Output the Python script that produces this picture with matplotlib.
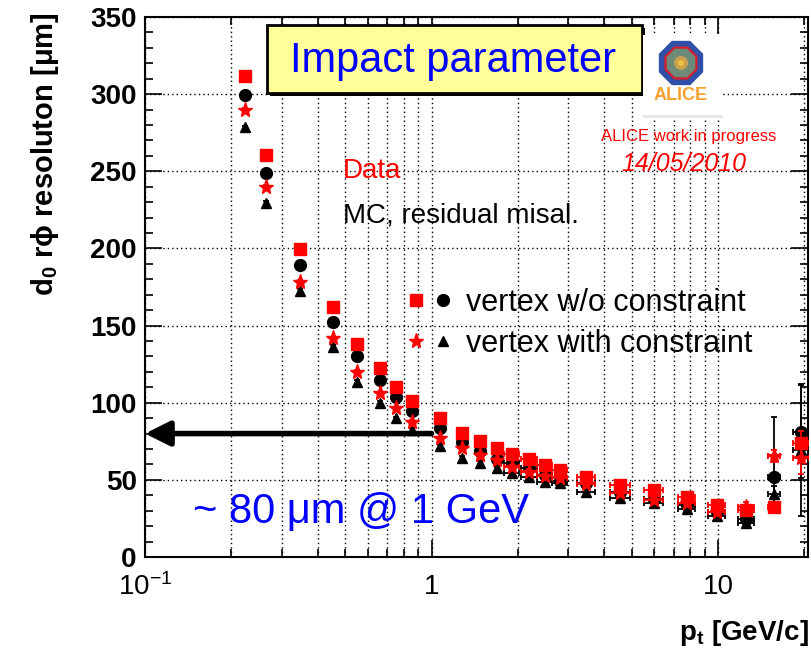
import numpy as np
import matplotlib
matplotlib.use('Agg')
import matplotlib.pyplot as plt
from matplotlib.patches import Rectangle, RegularPolygon, Circle
from matplotlib.legend_handler import HandlerTuple
from matplotlib.ticker import MultipleLocator, LogLocator, NullFormatter, FixedLocator

plt.rcParams['font.family'] = ['Liberation Sans', 'DejaVu Sans']
plt.rcParams['mathtext.fontset'] = 'custom'
plt.rcParams['mathtext.rm'] = 'Liberation Sans'
plt.rcParams['mathtext.it'] = 'Liberation Sans:italic'
plt.rcParams['mathtext.bf'] = 'Liberation Sans:bold'
plt.rcParams['mathtext.default'] = 'regular'

# ---------------- data ----------------
pt = [0.223, 0.264, 0.347, 0.452, 0.548, 0.659, 0.754, 0.857, 1.07, 1.28, 1.48, 1.69,
      1.905, 2.19, 2.49, 2.81, 3.46, 4.56, 5.98, 7.78, 9.89, 12.5, 15.7, 19.5]
pt_err = [0, 0, 0, 0, 0, 0, 0, 0, 0, 0, 0, 0,
          0.12, 0.14, 0.15, 0.17, 0.25, 0.35, 0.45, 0.55, 0.7, 0.8, 0.8, 1.2]

# Data, vertex w/o constraint (red squares)
data_noc = [311.7, 260.5, 199.6, 161.8, 138.0, 122.3, 110.4, 101.3, 89.9, 80.6, 75.2, 70.4,
            66.8, 63.3, 59.6, 56.4, 51.7, 46.7, 43.4, 39.1, 33.7, 30.5, 32.6, 73.7]
data_noc_err = [1, 1, 1, 1, 1, 1, 1, 1, 1, 1, 1, 1, 1.5, 1.5, 1.5, 1.5, 2, 2, 2, 2, 2, 3, 3, 8]
# MC, vertex w/o constraint (black circles) - asymmetric errors (low, high)
mc_noc = [299.4, 249.0, 189.2, 152.5, 130.5, 114.7, 103.9, 94.8, 83.4, 74.7, 68.9, 63.3,
          60.7, 57.5, 53.1, 49.4, 47.8, 42.3, 37.4, 33.7, 29.4, 24.4, 52.0, 81.2]
mc_noc_err_lo = [1, 1, 1, 1, 1, 1, 1, 1, 1, 1, 1, 1, 1.5, 1.5, 1.5, 1.5, 2, 2, 2, 2, 2, 3, 19, 30]
mc_noc_err_hi = [1, 1, 1, 1, 1, 1, 1, 1, 1, 1, 1, 1, 1.5, 1.5, 1.5, 1.5, 2, 2, 2, 2, 2, 3, 39, 30]
# Data, vertex with constraint (red stars)
data_c = [289.7, 240.0, 178.4, 141.7, 120.1, 106.1, 96.4, 87.5, 76.9, 70.4, 66.1, 62.9,
          58.1, 55.3, 52.5, 51.0, 47.3, 41.3, 36.9, 34.8, 29.4, 32.6, 65.5, 64.0]
data_c_err = [1, 1, 1, 1, 1, 1, 1, 1, 1, 1, 1, 1, 1.5, 1.5, 1.5, 1.5, 2, 2, 2, 2, 2, 3, 4, 10]
# MC, vertex with constraint (black triangles)
mc_c = [278.5, 229.6, 172.6, 136.3, 113.6, 100.0, 90.0, 82.3, 71.9, 64.4, 61.1, 57.5,
        54.2, 51.7, 48.8, 47.8, 42.3, 38.4, 34.8, 30.9, 26.6, 21.8, 40.8, 69.3]
mc_c_err = [1, 1, 1, 1, 1, 1, 1, 1, 1, 1, 1, 1, 1.5, 1.5, 1.5, 1.5, 2, 2, 2, 2, 2, 3, 5, 43]

yticks = [0, 50, 100, 150, 200, 250, 300, 350]
xticks = [0.1, 1, 10]
xticklabels = ['10$^{-1}$', '1', '10']
arrow_pt = 1.0
arrow_val = 80

RED = '#FF0000'
BLUE = '#0000FF'

fig = plt.figure(figsize=(8.12, 6.56), dpi=100)
ax = fig.add_axes([145 / 812, 1 - 557 / 656, 663 / 812, 540 / 656])
ax.set_xscale('log')
ax.set_xlim(0.1, 20.6)
ax.set_ylim(0, 350)

# grid
dots = (0, (1, 2.2))
ax.grid(True, which='both', axis='x', color='black', ls=dots, lw=1.0)
ax.grid(True, which='major', axis='y', color='black', ls=dots, lw=1.0)
ax.set_axisbelow(True)

ekw = dict(capsize=2.5, elinewidth=1.3, capthick=1.3, ls='none')
h_ci = ax.errorbar(pt, mc_noc, yerr=[mc_noc_err_lo, mc_noc_err_hi], xerr=pt_err, fmt='o',
                   color='black', ms=8.5, zorder=3, **ekw)
h_tr = ax.errorbar(pt, mc_c, yerr=mc_c_err, xerr=pt_err, fmt='^', color='black',
                   ms=7.5, zorder=3, **ekw)
h_sq = ax.errorbar(pt, data_noc, yerr=data_noc_err, xerr=pt_err, fmt='s', color=RED,
                   ms=9, zorder=4, **ekw)
h_st = ax.errorbar(pt, data_c, yerr=data_c_err, xerr=pt_err, fmt='*', color=RED,
                   ms=11, zorder=4, **ekw)

# ticks
ax.set_yticks(yticks)
ax.set_yticklabels([str(v) for v in yticks], fontsize=20, fontweight='bold')
ax.yaxis.set_minor_locator(MultipleLocator(10))
ax.xaxis.set_major_locator(FixedLocator(xticks))
ax.set_xticklabels(xticklabels, fontsize=20)
ax.xaxis.set_minor_locator(LogLocator(base=10, subs=np.arange(2, 10)))
ax.xaxis.set_minor_formatter(NullFormatter())
ax.tick_params(which='both', direction='in', top=True, right=True, width=1.2)
ax.tick_params(which='major', length=12)
ax.tick_params(which='minor', length=6)
ax.tick_params(axis='x', which='major', pad=12)
ax.tick_params(axis='y', which='major', pad=6)
for s in ax.spines.values():
    s.set_linewidth(1.5)

# arrow
ax.annotate('', xy=(0.1, arrow_val), xytext=(arrow_pt, arrow_val),
            arrowprops=dict(arrowstyle='-|>,head_length=0.5,head_width=0.25', lw=4,
                            color='black', mutation_scale=30, shrinkA=0, shrinkB=0),
            zorder=5)

# legend (two markers per row)
leg = ax.legend([(h_sq[0], h_ci[0]), (h_st[0], h_tr[0])],
                ['vertex w/o constraint', 'vertex with constraint'],
                handler_map={tuple: HandlerTuple(ndivide=None, pad=0.2)},
                frameon=False, fontsize=22, handlelength=1.6, handletextpad=0.4,
                labelspacing=0.36, borderpad=0, borderaxespad=0,
                loc='upper left', bbox_to_anchor=(405 / 812, 1 - 288 / 656),
                bbox_transform=fig.transFigure)

# axis titles
fig.text(0.055, 1 - 12 / 656, 'd$_\\mathbf{0}$ r\u03d5 resoluton [\u03bcm]', rotation=90,
         ha='center', va='top', fontsize=21, fontweight='bold')
fig.text(809 / 812, 1 - 640 / 656, 'p$_\\mathbf{t}$ [GeV/c]', ha='right', va='baseline',
         fontsize=20, fontweight='bold')

# annotations
fig.text(343 / 812, 1 - 178 / 656, 'Data', color=RED, fontsize=20, va='baseline')
fig.text(343 / 812, 1 - 222 / 656, 'MC, residual misal.', color='black', fontsize=20,
         va='baseline')
fig.text(361 / 812, 1 - 523 / 656, '~ 80 \u03bcm @ 1 GeV', color=BLUE, fontsize=30,
         ha='center', va='baseline')
fig.text(689 / 812, 1 - 140.7 / 656, 'ALICE work in progress', color=RED, fontsize=12,
         ha='center', va='baseline')
fig.text(684 / 812, 1 - 170.7 / 656, '14/05/2010', color=RED, fontsize=18,
         style='italic', ha='center', va='baseline')

# title box
fig.add_artist(Rectangle((270 / 812, 1 - 96 / 656), 375 / 812, 68 / 656,
                         transform=fig.transFigure, facecolor='black', edgecolor='none',
                         zorder=6))
fig.add_artist(Rectangle((267 / 812, 1 - 93 / 656), 375 / 812, 68 / 656,
                         transform=fig.transFigure, facecolor='#FFFF99', edgecolor='black',
                         lw=2, zorder=7))
fig.text(453 / 812, 1 - 72 / 656, 'Impact parameter', color=BLUE, fontsize=30,
         ha='center', va='baseline', zorder=8)

# ALICE logo
lax = fig.add_axes([643 / 812, 1 - 118 / 656, 80 / 812, 83 / 656], zorder=9)
lax.set_xlim(0, 80)
lax.set_ylim(0, 83)
lax.set_facecolor('white')
lax.set_xticks([])
lax.set_yticks([])
for s in lax.spines.values():
    s.set_visible(False)
lax.add_patch(Rectangle((0, 0), 80, 3, facecolor='#E8E8E8', edgecolor='none'))
lax.add_patch(RegularPolygon((38, 55), 8, radius=24, orientation=np.pi / 8,
                             facecolor='#2F4FA8', edgecolor='none'))
lax.add_patch(RegularPolygon((38, 55), 8, radius=18, orientation=np.pi / 8,
                             facecolor='#D02030', edgecolor='none'))
lax.add_patch(RegularPolygon((38, 55), 8, radius=15.5, orientation=np.pi / 8,
                             facecolor='#6E8A78', edgecolor='none'))
lax.add_patch(Circle((38, 55), 7, facecolor='#C8A050', edgecolor='none'))
lax.add_patch(Circle((38, 55), 3, facecolor='#F0C040', edgecolor='none'))
lax.text(38, 23, 'ALICE', color='#F5A030', fontsize=13, fontweight='bold',
         ha='center', va='center')

fig.savefig('out.png', dpi=100)
